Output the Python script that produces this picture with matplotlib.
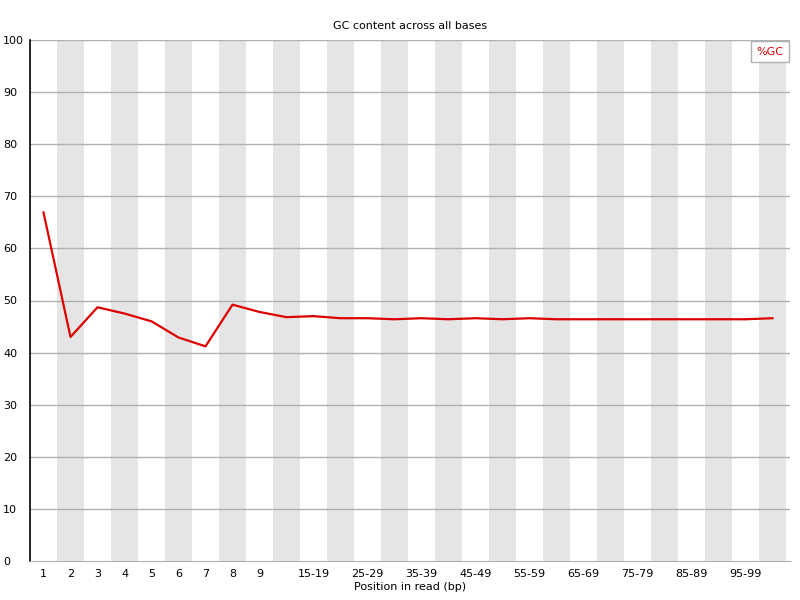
import matplotlib
matplotlib.use("Agg")
import matplotlib.pyplot as plt

categories = ["1", "2", "3", "4", "5", "6", "7", "8", "9",
              "10-14", "15-19", "20-24", "25-29", "30-34", "35-39",
              "40-44", "45-49", "50-54", "55-59", "60-64", "65-69",
              "70-74", "75-79", "80-84", "85-89", "90-94", "95-99", "100-101"]
gc_values = [66.9, 43.0, 48.7, 47.5, 46.0, 42.9, 41.2, 49.2, 47.8,
             46.8, 47.0, 46.6, 46.6, 46.4, 46.6,
             46.4, 46.6, 46.4, 46.6, 46.4, 46.4,
             46.4, 46.4, 46.4, 46.4, 46.4, 46.4, 46.6]
y_ticks = [0, 10, 20, 30, 40, 50, 60, 70, 80, 90, 100]

plt.rcParams['font.family'] = ['DejaVu Sans']

fig = plt.figure(figsize=(8, 6), dpi=100)
ax = fig.add_axes([30/800, 39/600, 760/800, 521/600])

n = len(categories)
x = list(range(n))
for i in x:
    if i % 2 == 1:
        ax.axvspan(i - 0.5, i + 0.5, color='#e5e5e5', zorder=0, lw=0)

for yv in y_ticks[1:]:
    ax.axhline(yv, color='#b0b0b0', lw=1, zorder=1)

line, = ax.plot(x, gc_values, color='#dd0000', lw=1.6, zorder=3, label='%GC')

ax.set_xlim(-0.5, -0.5 + 760/27)
ax.set_ylim(0, 100)
ax.set_yticks(y_ticks)
ax.set_yticklabels([str(v) for v in y_ticks], fontsize=8)
for t in ax.get_yticklabels():
    t.set_horizontalalignment('left')
ax.set_xticks(x)
labels = []
for i, c in enumerate(categories):
    if i < 9 or (i % 2 == 0 and i < n - 1):
        labels.append(c)
    else:
        labels.append("")
ax.set_xticklabels(labels, fontsize=8)
ax.tick_params(length=0)
ax.tick_params(axis='x', pad=6)
ax.tick_params(axis='y', pad=27 * 72 / 100)

for s in ['top', 'right']:
    ax.spines[s].set_visible(False)
ax.spines['left'].set_color('black')
ax.spines['left'].set_linewidth(1.2)
ax.spines['bottom'].set_color('#b0b0b0')

ax.set_title("GC content across all bases", fontsize=8, pad=8)
ax.set_xlabel("Position in read (bp)", fontsize=8, labelpad=2)

leg = ax.legend(handles=[line], loc='upper right', handlelength=0, handletextpad=0,
                labelcolor='#dd0000', fontsize=8, fancybox=False, framealpha=1,
                borderpad=0.5, borderaxespad=0.1, edgecolor='#b0b0b0')
for h in leg.legend_handles:
    h.set_visible(False)

fig.savefig("out.png", dpi=100)
